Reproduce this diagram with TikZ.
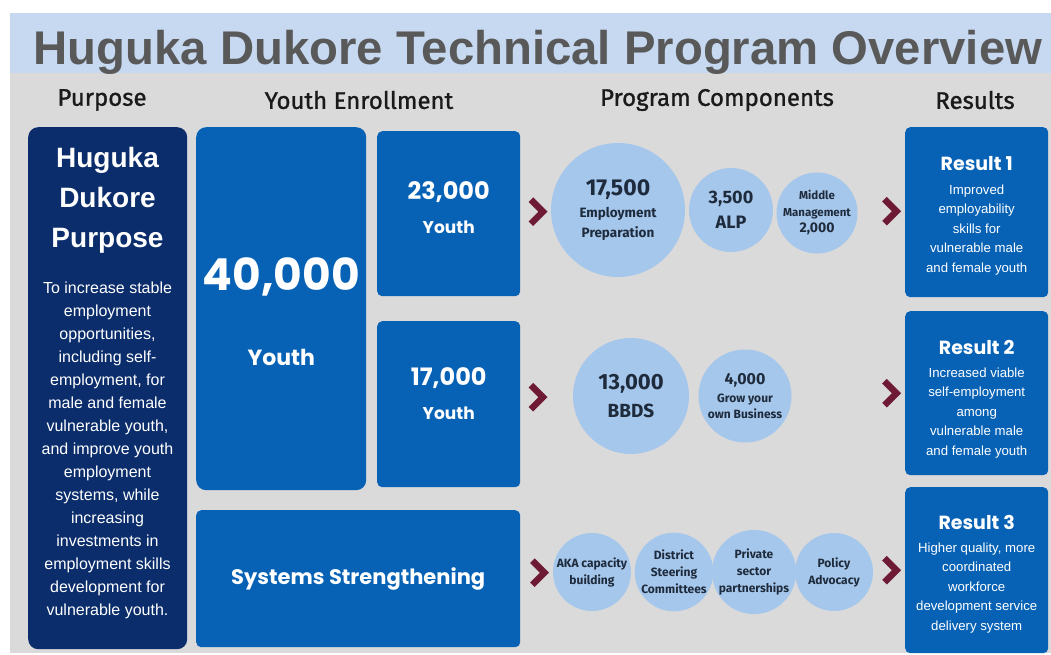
\documentclass[tikz,border=0pt]{standalone}
\usepackage{fontspec}
\setmainfont{Liberation Sans}
\newfontfamily\headfont{Fira Sans}[FakeBold=1.2]
\newfontfamily\numfont{Poppins}
\newfontfamily\circfont{Fira Sans}
\usetikzlibrary{calc, positioning}

\definecolor{pagegray}{HTML}{DADADA}
\definecolor{bandblue}{HTML}{C6D9F1}
\definecolor{titlegray}{HTML}{595959}
\definecolor{navyfill}{HTML}{0B2D6B}
\definecolor{boxblue}{HTML}{0762B6}
\definecolor{bubblefill}{HTML}{A6C7EC}
\definecolor{bubbletext}{HTML}{1E2B3C}
\definecolor{chevred}{HTML}{6E1A35}
\definecolor{headtext}{HTML}{1A1A1A}

\begin{document}
\begin{tikzpicture}[x=1pt, y=-1pt,
    panel/.style={rectangle, inner sep=0pt, anchor=north west, rounded corners=10pt},
    darkpanel/.style={panel, fill=navyfill},
    bluepanel/.style={panel, fill=boxblue, rounded corners=5pt},
    bubble/.style={circle, fill=bubblefill, inner sep=0pt, align=center, text=bubbletext},
    heading/.style={font=\headfont\fontsize{24}{28}\selectfont, text=headtext},
    bignum/.style={text=white, font=\numfont\bfseries\fontsize{44}{48}\selectfont},
    boxnum/.style={text=white, font=\numfont\bfseries\fontsize{24}{28}\selectfont},
    boxword/.style={text=white, font=\numfont\bfseries\fontsize{17}{20}\selectfont},
    restitle/.style={text=white, font=\numfont\bfseries\fontsize{19}{22}\selectfont},
    resbody/.style={text=white, align=center, anchor=north, font=\fontsize{13.2}{19.5}\selectfont},
    chevron/.style={draw=chevred, line width=6.5pt, line join=miter},
    chev/.pic={\draw[chevron] (-7,-12) -- (5,0) -- (-7,12);}]

    \useasboundingbox (0,0) rectangle (1051,655);
    \fill[white] (0,0) rectangle (1051,655);
    \fill[pagegray] (10,13) rectangle (1051,653);
    \fill[bandblue] (10,13) rectangle (1051,73);

    % Title and column headings
    \node[anchor=base, text=titlegray, font=\bfseries\fontsize{47.3}{50}\selectfont] (title) at (538,65) {Huguka Dukore Technical Program Overview};
    \node[heading] (hpurpose) at (102,100) {Purpose};
    \node[heading] (hyouth) at (359,100) {Youth Enrollment};
    \node[heading] (hcomp) at (717,100) {Program Components};
    \node[heading] (hres) at (975,100) {Results};

    % Purpose column
    \node[darkpanel, minimum width=159pt, minimum height=522pt] (purpose) at (28,127) {};
    \node[text=white, align=center, font=\bfseries\fontsize{28}{40}\selectfont] (ptitle) at (107.5,200) {Huguka\\Dukore\\Purpose};
    \node[text=white, align=center, font=\fontsize{16}{23}\selectfont] (ptext) at (107.5,450) {To increase stable\\employment\\opportunities,\\including self-\\employment, for\\male and female\\vulnerable youth,\\and improve youth\\employment\\systems, while\\increasing\\investments in\\employment skills\\development for\\vulnerable youth.};

    % Youth enrollment
    \node[bluepanel, rounded corners=10pt, minimum width=170pt, minimum height=363pt] (total) at (196,127) {};
    \node[bignum] (totalnum) at ($(total.north)+(0,150)$) {40,000};
    \node[boxword, font=\numfont\bfseries\fontsize{22}{26}\selectfont] (totalword) at ($(total.north)+(0,230)$) {Youth};

    \node[bluepanel, minimum width=143pt, minimum height=165pt] (b23) at (377,131) {};
    \node[boxnum] (b23num) at ($(b23.north)+(0,61)$) {23,000};
    \node[boxword] (b23word) at ($(b23.north)+(0,96)$) {Youth};

    \node[bluepanel, minimum width=143pt, minimum height=166pt] (b17) at (377,321) {};
    \node[boxnum] (b17num) at ($(b17.north)+(0,57)$) {17,000};
    \node[boxword] (b17word) at ($(b17.north)+(0,92)$) {Youth};

    \node[bluepanel, minimum width=324pt, minimum height=137pt] (systems) at (196,510) {};
    \node[text=white, font=\numfont\bfseries\fontsize{21}{24}\selectfont] (systext) at (systems.center) {Systems Strengthening};

    % Program components
    \node[bubble, minimum size=134pt, font=\circfont\bfseries\fontsize{13.5}{20}\selectfont] (ep) at (618,210)
        {{\fontsize{23}{20}\selectfont 17,500}\\[2pt]Employment\\Preparation};
    \node[bubble, minimum size=84pt, font=\circfont\bfseries\fontsize{18}{25}\selectfont] (alp) at (731,210) {3,500\\ALP};
    \node[bubble, minimum size=78pt, font=\circfont\bfseries\fontsize{11.5}{16.5}\selectfont] (mm) at (817,213)
        {Middle\\Management\\{\fontsize{14}{16.5}\selectfont 2,000}};
    \node[bubble, minimum size=116pt, font=\circfont\bfseries\fontsize{19}{28}\selectfont] (bbds) at (631,396)
        {{\fontsize{22}{28}\selectfont 13,000}\\BBDS};
    \node[bubble, minimum size=93pt, font=\circfont\bfseries\fontsize{12}{16}\selectfont] (gyob) at (745,396)
        {{\fontsize{16}{16}\selectfont 4,000}\\[2pt]Grow your\\own Business};
    \node[bubble, minimum size=78pt, font=\circfont\bfseries\fontsize{12}{17}\selectfont] (aka) at (592,572) {AKA capacity\\building};
    \node[bubble, minimum size=78pt, font=\circfont\bfseries\fontsize{12}{17}\selectfont] (dsc) at (674,572) {District\\Steering\\Committees};
    \node[bubble, minimum size=78pt, font=\circfont\bfseries\fontsize{12}{17}\selectfont] (psp) at (754,572) {Private\\sector\\partnerships};
    \node[bubble, minimum size=78pt, font=\circfont\bfseries\fontsize{12}{17}\selectfont] (pa) at (834,572) {Policy\\Advocacy};

    % Results
    \node[bluepanel, minimum width=143pt, minimum height=170pt] (res1) at (905,127) {};
    \node[restitle] (res1t) at ($(res1.north)+(0,37)$) {Result 1};
    \node[resbody] (res1b) at ($(res1.north)+(0,54)$) {Improved\\employability\\skills for\\vulnerable male\\and female youth};

    \node[bluepanel, minimum width=143pt, minimum height=164pt] (res2) at (905,311) {};
    \node[restitle] (res2t) at ($(res2.north)+(0,36)$) {Result 2};
    \node[resbody] (res2b) at ($(res2.north)+(0,53)$) {Increased viable\\self-employment\\among\\vulnerable male\\and female youth};

    \node[bluepanel, minimum width=143pt, minimum height=166pt] (res3) at (905,487) {};
    \node[restitle] (res3t) at ($(res3.north)+(0,35)$) {Result 3};
    \node[resbody] (res3b) at ($(res3.north)+(0,52)$) {Higher quality, more\\coordinated\\workforce\\development service\\delivery system};

    % Chevrons
    \pic at ($(b23.east)+(17.5,-2)$) {chev};
    \pic at ($(b17.east)+(17.5,-7)$) {chev};
    \pic at ($(systems.east)+(19,-6)$) {chev};
    \pic at ($(res1.west)+(-13.5,-1)$) {chev};
    \pic at ($(res2.west)+(-13.5,0)$) {chev};
    \pic at ($(res3.west)+(-13.5,0)$) {chev};
\end{tikzpicture}
\end{document}
